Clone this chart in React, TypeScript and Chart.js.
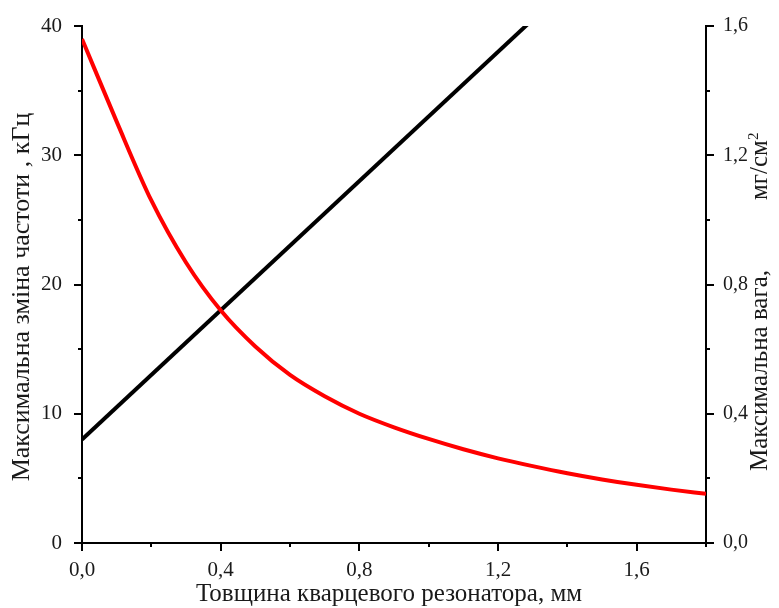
import React, { useEffect, useRef } from "react";
import { Chart, registerables } from "chart.js";

Chart.register(...registerables);

// Thickness of the quartz resonator, mm
const thickness = [0, 0.1, 0.2, 0.3, 0.4, 0.5, 0.6, 0.7, 0.8, 0.9, 1.0, 1.1, 1.2, 1.3, 1.4, 1.5, 1.6, 1.7, 1.8];
// Maximum frequency change, kHz (red, left axis)
const freqChange = [39.0, 32.6, 26.5, 21.7, 18.0, 15.2, 13.0, 11.35, 10.0, 8.95, 8.05, 7.25, 6.55, 5.95, 5.4, 4.92, 4.5, 4.13, 3.8];
// Maximum mass, mg/cm² (black, right axis)
const massThickness = [0, 1.8];
const massValues = [0.32, 2.12];

const xMajorTicks = [0, 0.4, 0.8, 1.2, 1.6];
const xMinorTicks = [0.2, 0.6, 1.0, 1.4, 1.8];
const yLeftMajorTicks = [0, 10, 20, 30, 40];
const yLeftMinorTicks = [5, 15, 25, 35];
const yRightMajorTicks = [0, 0.4, 0.8, 1.2, 1.6];
const yRightMinorTicks = [0.2, 0.6, 1.0, 1.4];

const xTitle = "Товщина кварцевого резонатора, мм";
const yLeftTitle = "Максимальна зміна частоти , кГц";
const yRightTitleMain = "Максимальна вага,";
const yRightTitleUnit = "мг/см";
const yRightTitleSup = "2";

const FONT = "'Liberation Serif', 'Times New Roman', serif";
const TEXT = "#1a1a1a";

const comma1 = (v: number) => v.toFixed(1).replace(".", ",");

export default function App() {
  const ref = useRef<HTMLCanvasElement | null>(null);

  useEffect(() => {
    document.body.style.margin = "0";
    const canvas = ref.current!;
    const ticksPlugin = {
      id: "customTicks",
      afterDraw(chart: any) {
        const ctx = chart.ctx as CanvasRenderingContext2D;
        const ca = chart.chartArea;
        const xs = chart.scales.x;
        const yl = chart.scales.y;
        const yr = chart.scales.y1;
        ctx.save();
        ctx.strokeStyle = "#000";
        ctx.lineWidth = 2;
        const MAJ = 8;
        const MIN = 4;
        const drawX = (vals: number[], len: number) => {
          vals.forEach((v) => {
            const px = Math.round(xs.getPixelForValue(v));
            ctx.beginPath();
            ctx.moveTo(px, ca.bottom);
            ctx.lineTo(px, ca.bottom + len);
            ctx.stroke();
          });
        };
        const drawY = (scale: any, vals: number[], len: number, left: boolean) => {
          vals.forEach((v) => {
            const py = Math.round(scale.getPixelForValue(v));
            const x0 = left ? ca.left : ca.right;
            ctx.beginPath();
            ctx.moveTo(x0, py);
            ctx.lineTo(left ? x0 - len : x0 + len, py);
            ctx.stroke();
          });
        };
        drawX(xMajorTicks, MAJ);
        drawX(xMinorTicks, MIN);
        drawY(yl, yLeftMajorTicks, MAJ, true);
        drawY(yl, yLeftMinorTicks, MIN, true);
        drawY(yr, yRightMajorTicks, MAJ, false);
        drawY(yr, yRightMinorTicks, MIN, false);

        // titles
        ctx.fillStyle = TEXT;
        ctx.font = `25px ${FONT}`;
        ctx.textAlign = "center";
        ctx.textBaseline = "middle";
        ctx.fillText(xTitle, 389, 594);

        ctx.save();
        ctx.translate(22, 297);
        ctx.rotate(-Math.PI / 2);
        ctx.font = `26px ${FONT}`;
        ctx.fillText(yLeftTitle, 0, 0);
        ctx.restore();

        ctx.save();
        ctx.translate(760, 0);
        ctx.rotate(-Math.PI / 2);
        ctx.font = `25px ${FONT}`;
        ctx.textAlign = "left";
        ctx.fillText(yRightTitleMain, -471, 0);
        const unitStart = -200;
        ctx.fillText(yRightTitleUnit, unitStart, 0);
        const uw = ctx.measureText(yRightTitleUnit).width;
        ctx.font = `15px ${FONT}`;
        ctx.fillText(yRightTitleSup, unitStart + uw, -6);
        ctx.restore();
        ctx.restore();
      },
    };

    const chart = new Chart(canvas, {
      type: "line",
      data: {
        datasets: [
          {
            label: "freq",
            data: thickness.map((x, i) => ({ x, y: freqChange[i] })),
            borderColor: "#ff0000",
            borderWidth: 4,
            pointRadius: 0,
            cubicInterpolationMode: "monotone",
            yAxisID: "y",
            fill: false,
          },
          {
            label: "mass",
            data: massThickness.map((x, i) => ({ x, y: massValues[i] })),
            borderColor: "#000000",
            borderWidth: 4,
            pointRadius: 0,
            tension: 0,
            yAxisID: "y1",
            fill: false,
          },
        ],
      },
      options: {
        animation: false,
        responsive: false,
        devicePixelRatio: 1,
        layout: { padding: { top: 26, left: 0, right: 0, bottom: 0 } },
        plugins: {
          legend: { display: false },
          tooltip: { enabled: false },
          title: { display: false },
        },
        scales: {
          x: {
            type: "linear",
            min: 0,
            max: 1.8,
            grid: { display: false },
            border: { display: true, color: "#000", width: 2 },
            afterBuildTicks: (s: any) => {
              s.ticks = xMajorTicks.map((v) => ({ value: v }));
            },
            afterFit: (s: any) => {
              s.height = 65;
            },
            ticks: {
              padding: 7,
              color: TEXT,
              font: { family: FONT, size: 21 },
              maxRotation: 0,
              callback: (v: any) => comma1(Number(v)),
            },
          },
          y: {
            type: "linear",
            position: "left",
            min: 0,
            max: 40,
            grid: { display: false },
            border: { display: true, color: "#000", width: 2 },
            afterBuildTicks: (s: any) => {
              s.ticks = yLeftMajorTicks.map((v) => ({ value: v }));
            },
            afterFit: (s: any) => {
              s.width = 82;
            },
            ticks: {
              padding: 12,
              color: TEXT,
              font: { family: FONT, size: 21 },
              callback: (v: any) => String(v),
            },
          },
          y1: {
            type: "linear",
            position: "right",
            min: 0,
            max: 1.6,
            grid: { display: false },
            border: { display: true, color: "#000", width: 2 },
            afterBuildTicks: (s: any) => {
              s.ticks = yRightMajorTicks.map((v) => ({ value: v }));
            },
            afterFit: (s: any) => {
              s.width = 73;
            },
            ticks: {
              padding: 9,
              color: TEXT,
              font: { family: FONT, size: 20 },
              callback: (v: any) => comma1(Number(v)),
            },
          },
        },
      },
      plugins: [ticksPlugin],
    } as any);
    return () => chart.destroy();
  }, []);

  return (
    <div style={{ position: "absolute", left: 0, top: 0, width: 779, height: 608, background: "#fff" }}>
      <canvas ref={ref} width={779} height={608} />
    </div>
  );
}
